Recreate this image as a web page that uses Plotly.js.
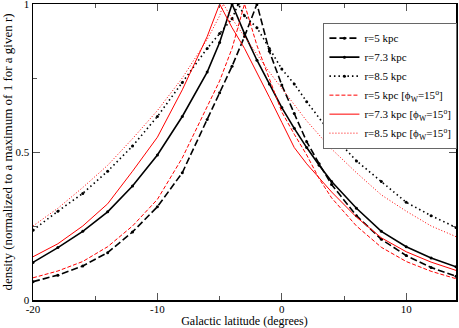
<!DOCTYPE html>
<html>
<head>
<meta charset="utf-8">
<script src="https://cdn.plot.ly/plotly-3.0.1.min.js"></script>
<style>
  html, body { margin: 0; padding: 0; background: #fff; }
  #densityChart { width: 459px; height: 328px; }
</style>
</head>
<body>
<div id="densityChart"></div>
<script>
// galactic latitude (deg) and normalized density
const latR5 = [-20, -18, -16, -14, -12, -10, -8, -6, -5, -4, -3, -2, -1, 0, 1, 2, 3, 4, 6, 8, 10, 12, 14];
const densR5 = [0.062, 0.084, 0.115, 0.16, 0.23, 0.315, 0.43, 0.61, 0.70, 0.79, 0.89, 1.0, 0.84, 0.726, 0.63, 0.535, 0.46, 0.39, 0.285, 0.205, 0.15, 0.11, 0.08];

const latR73 = [-20, -18, -16, -14, -12, -10, -8, -6, -5, -4, -3, -2, -1, 0, 1, 2, 3, 4, 6, 8, 10, 12, 14];
const densR73 = [0.127, 0.177, 0.232, 0.298, 0.385, 0.49, 0.62, 0.77, 0.87, 1.0, 0.90, 0.81, 0.73, 0.65, 0.58, 0.515, 0.455, 0.40, 0.31, 0.232, 0.18, 0.142, 0.112];

const latR85 = [-20, -18, -16, -14, -12, -10, -8, -6, -5, -4, -3.5, -3, -2, -1, 0, 1, 2, 4, 6, 8, 10, 12, 14];
const densR85 = [0.236, 0.30, 0.36, 0.435, 0.52, 0.62, 0.735, 0.85, 0.90, 0.95, 1.0, 0.96, 0.92, 0.85, 0.78, 0.73, 0.67, 0.56, 0.47, 0.40, 0.33, 0.285, 0.245];

// same radii with the warp (phi_W = 15 deg)
const latR5w = [-20, -18, -16, -14, -12, -10, -8, -6, -5, -4, -3, -2, -1, 0, 1, 2, 3, 4, 6, 8, 10, 12, 14];
const densR5w = [0.075, 0.098, 0.13, 0.18, 0.25, 0.34, 0.48, 0.65, 0.74, 0.85, 1.0, 0.86, 0.745, 0.635, 0.56, 0.49, 0.41, 0.345, 0.25, 0.178, 0.13, 0.097, 0.072];

const latR73w = [-20, -18, -16, -14, -12, -10, -8, -7, -6, -5, -4, -3, -2, -1, 0, 1, 2, 4, 6, 8, 10, 12, 14];
const densR73w = [0.146, 0.19, 0.25, 0.325, 0.435, 0.55, 0.71, 0.80, 0.89, 1.0, 0.92, 0.85, 0.77, 0.685, 0.60, 0.515, 0.46, 0.365, 0.28, 0.21, 0.163, 0.128, 0.10];

const latR85w = [-20, -18, -16, -14, -12, -10, -8, -6, -5, -4.7, -4, -3, -2, -1, 0, 1, 2, 4, 6, 8, 10, 12, 14];
const densR85w = [0.25, 0.31, 0.38, 0.455, 0.545, 0.64, 0.75, 0.88, 0.96, 1.0, 0.95, 0.89, 0.83, 0.77, 0.715, 0.66, 0.605, 0.51, 0.43, 0.355, 0.30, 0.25, 0.214];

const seriesNames = [
    'r=5 kpc',
    'r=7.3 kpc',
    'r=8.5 kpc',
    'r=5 kpc [ϕ<sub>W</sub>=15<sup>o</sup>]',
    'r=7.3 kpc [ϕ<sub>W</sub>=15<sup>o</sup>]',
    'r=8.5 kpc [ϕ<sub>W</sub>=15<sup>o</sup>]'
];

// tick labels (plain hyphen like the original)
const xTickVals = [-20, -10, 0, 10];
const xTickText = ['-20', '-10', '0', '10'];
const yTickVals = [0, 0.5, 1];
const yTickText = ['0', '0.5', '1'];

const fontFamily = '"Liberation Serif", "Times New Roman", serif';
const tickColor = '#555';

function blackTrace(x, y, name, dash) {
    return {
        x: x, y: y, name: name,
        type: 'scatter',
        mode: 'lines+markers',
        line: { color: '#000', width: 1.6, dash: dash },
        marker: { color: '#000', size: 3 },
    };
}

function redTrace(x, y, name, dash) {
    return {
        x: x, y: y, name: name,
        type: 'scatter',
        mode: 'lines',
        line: { color: '#ff0000', width: 1, dash: dash },
    };
}

const dataPoints = [
    blackTrace(latR5, densR5, seriesNames[0], '7px,3px'),
    blackTrace(latR73, densR73, seriesNames[1], 'solid'),
    blackTrace(latR85, densR85, seriesNames[2], '1.5px,3px'),
    redTrace(latR5w, densR5w, seriesNames[3], '4px,2px'),
    redTrace(latR73w, densR73w, seriesNames[4], 'solid'),
    redTrace(latR85w, densR85w, seriesNames[5], '1px,2px'),
];

const axisCommon = {
    ticks: 'inside',
    ticklen: 7,
    tickcolor: tickColor,
    tickwidth: 1,
    tickfont: { size: 11 },
    ticklabeloverflow: 'allow',
    showline: true,
    linecolor: '#000',
    linewidth: 1.5,
    mirror: 'allticks',
    showgrid: false,
    zeroline: false,
    automargin: false,
};

const plotLayout = {
    width: 459,
    height: 328,
    margin: { l: 33, r: 2, t: 4, b: 28 },
    plot_bgcolor: '#fff',
    paper_bgcolor: '#fff',
    font: { family: fontFamily, size: 12, color: '#000' },
    showlegend: true,
    legend: {
        x: 0.685,
        y: 0.937,
        xanchor: 'left',
        yanchor: 'top',
        bgcolor: '#fff',
        bordercolor: '#666',
        borderwidth: 1,
        font: { family: fontFamily, size: 11, color: '#000' },
        tracegroupgap: 0,
        itemwidth: 30,
    },
    xaxis: Object.assign({}, axisCommon, {
        range: [-20, 14],
        tickmode: 'array',
        tickvals: xTickVals,
        ticktext: xTickText,
        ticklabelstandoff: -2,
        minor: { dtick: 5, tick0: 0, ticks: 'inside', ticklen: 4, tickcolor: tickColor },
        title: { text: 'Galactic latitude (degrees)', font: { size: 12 }, standoff: 1 },
    }),
    yaxis: Object.assign({}, axisCommon, {
        range: [0, 1],
        tickmode: 'array',
        tickvals: yTickVals,
        ticktext: yTickText,
        minor: { dtick: 0.25, tick0: 0, ticks: 'inside', ticklen: 4, tickcolor: tickColor },
        title: { text: 'density (normalized to a maximum of 1 for a given r)', font: { size: 13 }, standoff: 0 },
    }),
};

const plotConfig = {
    displayModeBar: false,
    staticPlot: true,
};

Plotly.newPlot('densityChart', dataPoints, plotLayout, plotConfig);
</script>
</body>
</html>
